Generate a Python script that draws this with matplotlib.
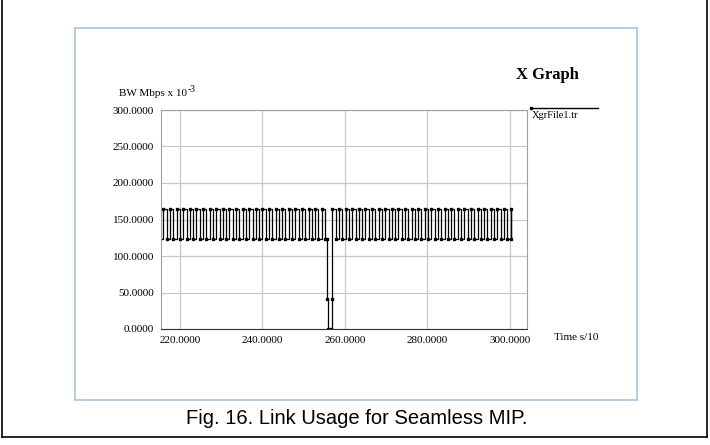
import matplotlib
matplotlib.use('Agg')
import matplotlib.pyplot as plt
from matplotlib.patches import Rectangle
from matplotlib.lines import Line2D

# trace samples: time (s/10) and link usage (Mbps x 10^-3)
time_before = [215.2, 216.0, 216.8, 217.6, 218.4, 219.2, 220.0, 220.8, 221.6, 222.4,
               223.2, 224.0, 224.8, 225.6, 226.4, 227.2, 228.0, 228.8, 229.6, 230.4,
               231.2, 232.0, 232.8, 233.6, 234.4, 235.2, 236.0, 236.8, 237.6, 238.4,
               239.2, 240.0, 240.8, 241.6, 242.4, 243.2, 244.0, 244.8, 245.6, 246.4,
               247.2, 248.0, 248.8, 249.6, 250.4, 251.2, 252.0, 252.8, 253.6, 254.4,
               255.2]
bw_before = [122.88, 163.84, 122.88, 163.84, 122.88, 163.84, 122.88, 163.84, 122.88, 163.84,
             122.88, 163.84, 122.88, 163.84, 122.88, 163.84, 122.88, 163.84, 122.88, 163.84,
             122.88, 163.84, 122.88, 163.84, 122.88, 163.84, 122.88, 163.84, 122.88, 163.84,
             122.88, 163.84, 122.88, 163.84, 122.88, 163.84, 122.88, 163.84, 122.88, 163.84,
             122.88, 163.84, 122.88, 163.84, 122.88, 163.84, 122.88, 163.84, 122.88, 163.84,
             122.88]

# handover gap
time_gap = [255.6, 255.7, 255.8, 256.6, 256.8]
bw_gap = [122.88, 40.96, 0.0, 0.0, 40.96]

time_after = [257.0, 257.8, 258.6, 259.4, 260.2, 261.0, 261.8, 262.6, 263.4, 264.2,
              265.0, 265.8, 266.6, 267.4, 268.2, 269.0, 269.8, 270.6, 271.4, 272.2,
              273.0, 273.8, 274.6, 275.4, 276.2, 277.0, 277.8, 278.6, 279.4, 280.2,
              281.0, 281.8, 282.6, 283.4, 284.2, 285.0, 285.8, 286.6, 287.4, 288.2,
              289.0, 289.8, 290.6, 291.4, 292.2, 293.0, 293.8, 294.6, 295.4, 296.2,
              297.0, 297.8, 298.6, 299.4, 300.2, 300.3]
bw_after = [163.84, 122.88, 163.84, 122.88, 163.84, 122.88, 163.84, 122.88, 163.84, 122.88,
            163.84, 122.88, 163.84, 122.88, 163.84, 122.88, 163.84, 122.88, 163.84, 122.88,
            163.84, 122.88, 163.84, 122.88, 163.84, 122.88, 163.84, 122.88, 163.84, 122.88,
            163.84, 122.88, 163.84, 122.88, 163.84, 122.88, 163.84, 122.88, 163.84, 122.88,
            163.84, 122.88, 163.84, 122.88, 163.84, 122.88, 163.84, 122.88, 163.84, 122.88,
            163.84, 122.88, 163.84, 122.88, 163.84, 122.88]

x_ticks = [220, 240, 260, 280, 300]
y_ticks = [0, 50, 100, 150, 200, 250, 300]

times = time_before + time_gap + time_after
bw = bw_before + bw_gap + bw_after

plt.rcParams['font.family'] = 'Liberation Serif'

fig = plt.figure(figsize=(7.1, 4.45), dpi=100)
W, H = 710.0, 445.0

# page frame (left, right, bottom) and graph frame
yb = 1 - 437 / H
fig.add_artist(Line2D([2 / W, 2 / W], [yb, 1], color='black', lw=1.2))
fig.add_artist(Line2D([707 / W, 707 / W], [yb, 1], color='black', lw=1.2))
fig.add_artist(Line2D([2 / W, 707 / W], [yb, yb], color='black', lw=1.2))
fig.add_artist(Rectangle((75 / W, 1 - 400 / H), (637 - 75) / W, (400 - 28) / H,
                         fill=False, edgecolor='#a8c2dc', lw=1.2))

ax = fig.add_axes([161 / W, 1 - 329 / H, (527 - 161) / W, (329 - 110) / H])
ax.plot(times, bw, color='black', lw=0.9, drawstyle='steps-post',
        marker='s', markersize=1.8)
ax.set_xlim(215.4, 304.2)
ax.set_ylim(0, 300)
ax.set_xticks(x_ticks)
ax.set_yticks(y_ticks)
ax.set_xticklabels(['%.4f' % v for v in x_ticks], fontsize=8)
ax.set_yticklabels(['%.4f' % v for v in y_ticks], fontsize=8)
ax.tick_params(length=0, pad=5)
ax.grid(True, color='#c8c8c8', lw=0.9)
ax.set_axisbelow(True)
for side in ['top', 'left', 'right']:
    ax.spines[side].set_color('#a0a0a0')
ax.spines['bottom'].set_color('#333333')

fig.text(119 / W, 1 - 94 / H, 'BW Mbps x 10', fontsize=8, va='center')
fig.text(188 / W, 1 - 89 / H, '-3', fontsize=7, va='center')
fig.text(554 / W, 1 - 338 / H, 'Time s/10', fontsize=8, va='center')
fig.text(547 / W, 1 - 75 / H, 'X Graph', fontsize=12, fontweight='bold',
         ha='center', va='center')

# legend entry
fig.add_artist(Line2D([531 / W, 598 / W], [1 - 108 / H, 1 - 108 / H], color='black', lw=1))
fig.add_artist(Line2D([531 / W], [1 - 108 / H], color='black', marker='s', markersize=2))
fig.text(532 / W, 1 - 115 / H, 'XgrFile1.tr', fontsize=7.5, va='center')

fig.text(357 / W, 1 - 418 / H, 'Fig. 16. Link Usage for Seamless MIP.',
         family='Liberation Sans', fontsize=14.5, ha='center', va='center')

fig.savefig('out.png', dpi=100)
